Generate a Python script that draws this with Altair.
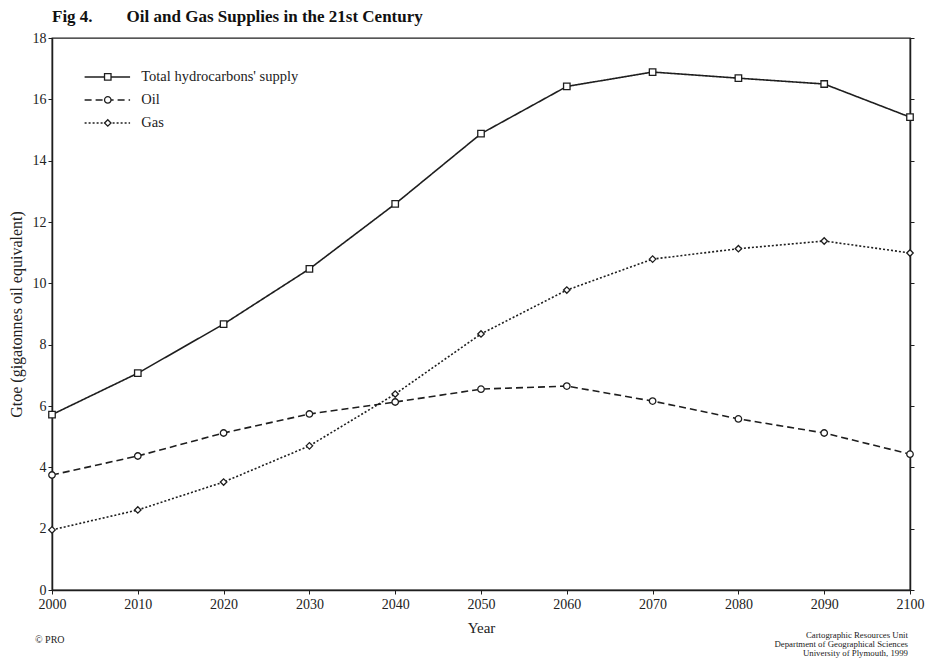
import altair as alt
import pandas as pd

years = [2000, 2010, 2020, 2030, 2040, 2050, 2060, 2070, 2080, 2090, 2100]
total = [5.72, 7.07, 8.67, 10.47, 12.59, 14.88, 16.42, 16.89, 16.69, 16.5, 15.42]
oil = [3.75, 4.37, 5.12, 5.74, 6.13, 6.55, 6.65, 6.16, 5.58, 5.12, 4.43]
gas = [1.96, 2.61, 3.52, 4.7, 6.39, 8.35, 9.78, 10.79, 11.13, 11.38, 10.99]
series = ["Total hydrocarbons' supply", "Oil", "Gas"]
y_ticks = [0, 2, 4, 6, 8, 10, 12, 14, 16, 18]
credit_lines = ["Cartographic Resources Unit", "Department of Geographical Sciences",
                "University of Plymouth, 1999"]

FONT = "Liberation Serif"
INK = "#1e1e1e"
TXT = "#222222"

rows = []
for name, vals in zip(series, [total, oil, gas]):
    for yr, v in zip(years, vals):
        rows.append({"series": name, "year": yr, "value": v})
df = pd.DataFrame(rows)

dash_scale = alt.Scale(domain=series, range=[[1, 0], [7, 4], [2, 2]])
shape_scale = alt.Scale(domain=series, range=["square", "circle", "diamond"])
xs = alt.Scale(domain=[2000, 2100], nice=False, zero=False)
ys = alt.Scale(domain=[0, 18], nice=False)

x_axis = alt.Axis(values=years, format="d", title="Year", labelFlush=False, grid=False,
                  tickSize=4, titlePadding=9, labelPadding=3)
y_axis = alt.Axis(values=y_ticks, title="Gtoe (gigatonnes oil equivalent)", grid=False,
                  tickSize=4, titlePadding=8, labelPadding=2, titleFontSize=16)

lines = alt.Chart(df).mark_line(strokeWidth=1.6, color=INK).encode(
    x=alt.X("year:Q", scale=xs, axis=x_axis),
    y=alt.Y("value:Q", scale=ys, axis=y_axis),
    strokeDash=alt.StrokeDash("series:N", scale=dash_scale, legend=None),
    detail="series:N",
)

points = alt.Chart(df).mark_point(filled=True, fill="white", stroke=INK,
                                  strokeWidth=1.3, size=42, opacity=1).encode(
    x=alt.X("year:Q", scale=xs),
    y=alt.Y("value:Q", scale=ys, axis=None),
    shape=alt.Shape("series:N", scale=shape_scale, legend=None),
)

right_axis = alt.Chart(df).mark_point(opacity=0).encode(
    y=alt.Y("value:Q", scale=ys,
            axis=alt.Axis(orient="right", values=y_ticks, labels=False, title=None,
                          tickSize=4, grid=False)),
)

# manual legend, placed in data space in the upper-left corner
leg_top = 16.73
leg_step = 0.75
leg = pd.DataFrame({
    "series": series,
    "ly": [leg_top - i * leg_step for i in range(len(series))],
    "lx1": [2003.8] * 3,
    "lx2": [2009.1] * 3,
    "lxm": [2006.5] * 3,
    "lxt": [2010.4] * 3,
})
leg_lines = alt.Chart(leg).mark_rule(strokeWidth=1.6, color=INK).encode(
    x=alt.X("lx1:Q", scale=xs), x2="lx2:Q",
    y=alt.Y("ly:Q", scale=ys, axis=None),
    strokeDash=alt.StrokeDash("series:N", scale=dash_scale, legend=None),
)
leg_pts = alt.Chart(leg).mark_point(filled=True, fill="white", stroke=INK,
                                    strokeWidth=1.3, size=42, opacity=1).encode(
    x=alt.X("lxm:Q", scale=xs), y=alt.Y("ly:Q", scale=ys, axis=None),
    shape=alt.Shape("series:N", scale=shape_scale, legend=None),
)
leg_txt = alt.Chart(leg).mark_text(align="left", baseline="middle", font=FONT,
                                   fontSize=14.5, color=TXT).encode(
    x=alt.X("lxt:Q", scale=xs), y=alt.Y("ly:Q", scale=ys, axis=None),
    text="series:N",
)

one = pd.DataFrame({"a": [0]})
logo = alt.Chart(one).mark_text(align="left", baseline="middle", font=FONT,
                                fontSize=10, color=TXT).encode(
    x=alt.value(-17), y=alt.value(602), text=alt.value("© PRO"))
credit_layers = []
for i, t in enumerate(credit_lines):
    credit_layers.append(alt.Chart(one).mark_text(
        align="right", baseline="middle", font=FONT, fontSize=8.8, color=TXT).encode(
        x=alt.value(856), y=alt.value(597 + 9 * i), text=alt.value(t)))

chart = alt.layer(lines, points, right_axis, leg_lines, leg_pts, leg_txt, logo,
                  *credit_layers).resolve_axis(y="independent").properties(
    width=858, height=552,
    title=alt.TitleParams(
        text="Fig 4.\u00a0\u00a0\u00a0\u00a0\u00a0\u00a0\u00a0\u00a0Oil and Gas Supplies in the 21st Century",
        anchor="start", frame="group", font=FONT, fontSize=17, fontWeight="bold",
        color="#111", offset=5),
    autosize=alt.AutoSizeParams(type="none"),
    padding={"left": 52, "top": 38, "right": 19, "bottom": 75},
    background="white",
).configure_view(stroke=INK, strokeWidth=1.3).configure_axis(
    labelFont=FONT, titleFont=FONT, labelFontSize=14, titleFontSize=15,
    titleFontWeight="normal", labelColor=TXT, titleColor=TXT,
    domainColor=INK, tickColor=INK, domainWidth=1.5, tickWidth=1,
)

chart.save("out.html", embed_options={"renderer": "svg", "actions": False})
